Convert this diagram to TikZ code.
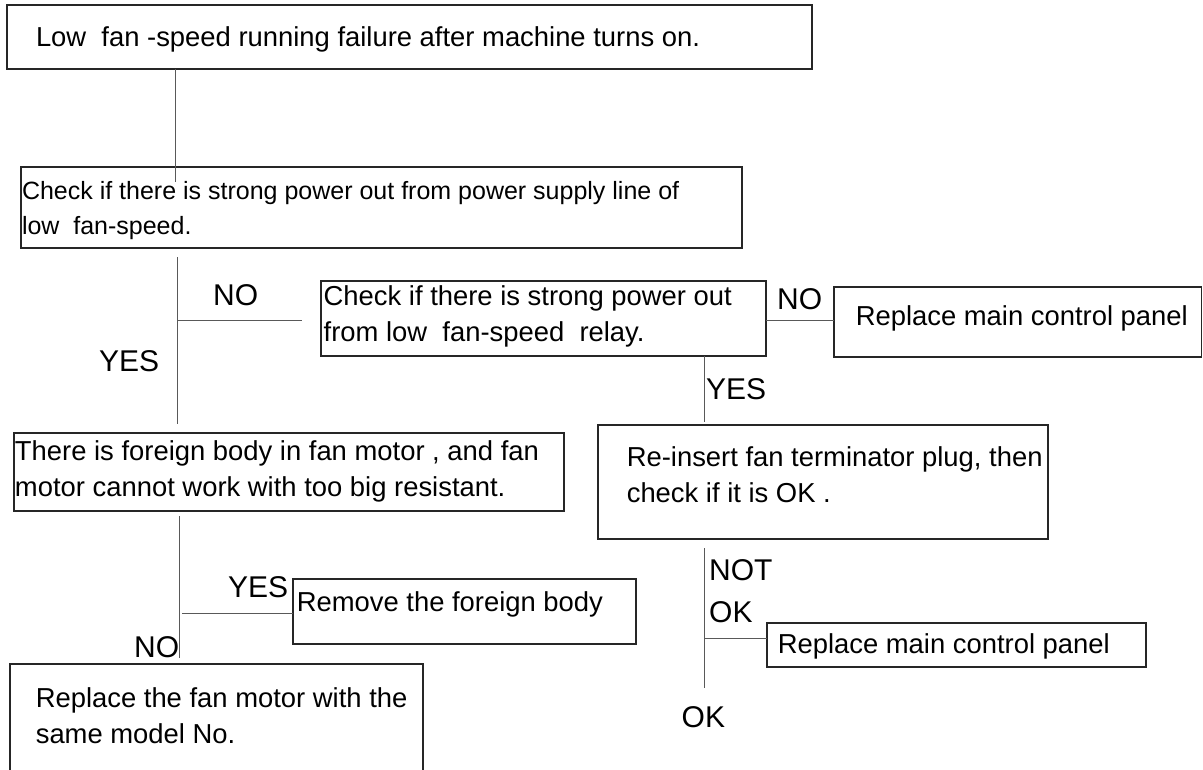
\documentclass[tikz,border=0pt]{standalone}
\usepackage{fontspec}
\setmainfont{Liberation Sans}
\usetikzlibrary{calc}
% box text: width, left pad, lift, lines
\newcommand\bxt[4]{\hbox to #1{\hskip #2\raisebox{#3}[\height][\depth]{\begin{tabular}{@{}l@{}}#4\end{tabular}}\hss}}
\begin{document}
\begin{tikzpicture}[x=1pt,y=-1pt,
  box/.style={draw=black!85,line width=1.1pt,inner sep=0pt,outer sep=0pt,font=\fontsize{27.4}{36}\selectfont},
  conn/.style={draw=black!65,line width=1pt},
  lbl/.style={inner sep=0pt,anchor=base west,font=\fontsize{30}{42}\selectfont}]
\useasboundingbox (0,0) rectangle (1203,769);

% boxes
\node[box,minimum width=805pt,minimum height=64pt] (b1) at (409.5,37)
  {\bxt{805pt}{29pt}{-1.8pt}{Low~ fan -speed running failure after machine turns on.}};
\node[box,font=\fontsize{25}{35}\selectfont,minimum width=721pt,minimum height=81pt] (b2) at (381.5,207.5)
  {\bxt{721pt}{1pt}{-2pt}{Check if there is strong power out from power supply line of\\low~ fan-speed.}};
\node[box,minimum width=445pt,minimum height=75pt] (b3) at (543.5,318.5)
  {\bxt{445pt}{2.7pt}{2.4pt}{Check if there is strong power out\\from low~ fan-speed~ relay.}};
\node[box,minimum width=367.5pt,minimum height=70pt] (b4) at (1017.75,322)
  {\bxt{367.5pt}{21.8pt}{4.2pt}{Replace main control panel}};
\node[box,minimum width=450pt,minimum height=114pt] (b5) at (823,482)
  {\bxt{450pt}{28.8pt}{4.9pt}{Re-insert fan terminator plug, then\\check if it is OK .}};
\node[box,minimum width=550pt,minimum height=78pt] (b6) at (289,472)
  {\bxt{550pt}{1pt}{1pt}{There is foreign body in fan motor , and fan\\motor cannot work with too big resistant.}};
\node[box,minimum width=343pt,minimum height=65pt] (b7) at (464.5,611.5)
  {\bxt{343pt}{3.8pt}{7.7pt}{Remove the foreign body}};
\node[box,minimum width=413pt,minimum height=113pt] (b8) at (216.5,720.5)
  {\bxt{413pt}{25.8pt}{2.4pt}{Replace the fan motor with the\\same model No.}};
\node[box,minimum width=379pt,minimum height=44pt] (b9) at (956.5,645)
  {\bxt{379pt}{10.8pt}{-0.8pt}{Replace main control panel}};

% connectors
\coordinate (j1) at (175,182);
\draw[conn] (b1.south -| j1) -- (j1);
\coordinate (t2) at (177,0);
\draw[conn,shorten <=9pt,shorten >=9pt] (b2.south -| t2) -- (b6.north -| t2);
\coordinate (j3) at (177,320.7);
\draw[conn,shorten >=19pt] (j3) -- (b3.west |- j3);
\coordinate (k4) at (800,320);
\draw[conn] (b3.east |- k4) -- (b4.west |- k4);
\coordinate (t5) at (704,0);
\draw[conn,shorten >=3pt] (b3.south -| t5) -- (b5.north -| t5);
\coordinate (t6) at (179,0);
\draw[conn,shorten <=5pt,shorten >=6pt] (b6.south -| t6) -- (b8.north -| t6);
\coordinate (j7) at (182,613);
\draw[conn] (j7) -- (b7.west |- j7);
\coordinate (e8) at (704,688);
\draw[conn,shorten <=9pt] (b5.south -| e8) -- (e8);
\coordinate (j9) at (704,638);
\draw[conn] (j9) -- (b9.west |- j9);

% labels
\node[lbl] (l1) at (213,305) {NO};
\node[lbl] (l2) at (99,371) {YES};
\node[lbl] (l3) at (777,309) {NO};
\node[lbl] (l4) at (706,399) {YES};
\node[lbl] (l5) at (228,597) {YES};
\node[lbl] (l6) at (134,657) {NO};
\node[lbl] (l7) at (709,580) {\begin{tabular}[t]{@{}l@{}}NOT\\OK\end{tabular}};
\node[lbl] (l8) at (681.5,727) {OK};
\end{tikzpicture}
\end{document}
